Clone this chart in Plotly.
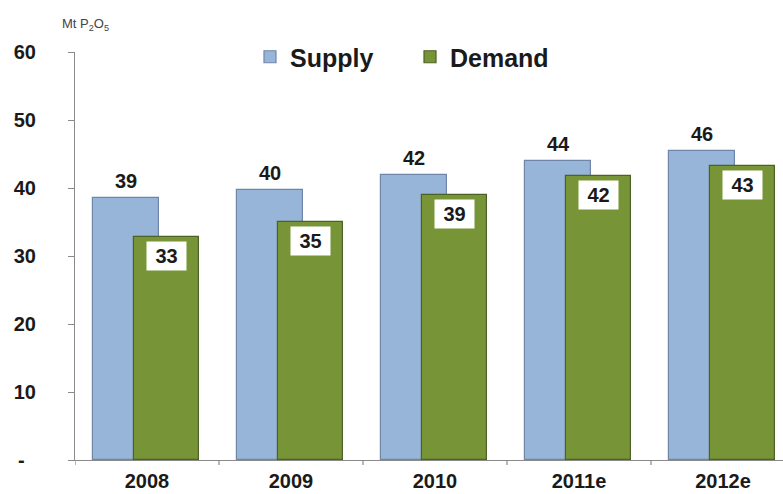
import plotly.graph_objects as go

years = ["2008", "2009", "2010", "2011e", "2012e"]
supply = [38.6, 39.7, 41.9, 43.9, 45.5]
demand = [32.8, 35.0, 38.9, 41.8, 43.3]
y_ticks = [0, 10, 20, 30, 40, 50, 60]
y_tick_labels = ["-\u00a0\u00a0", "10", "20", "30", "40", "50", "60"]

FONT = "Liberation Sans, Arial, sans-serif"
TXT = "#1a1a1a"
AXIS = "#8a8a8a"
idx = list(range(len(years)))

# plot area geometry (pixels)
W, H = 783, 494
L, T, B = 75, 52, 34
PW, PH = W - L, H - T - B


def px_x(p):
    return (p - L) / PW


def px_y(p):
    return (H - B - p) / PH


fig = go.Figure()
fig.add_trace(go.Bar(
    name="<b>Supply</b>", x=idx, y=supply,
    width=0.46, offset=-0.375,
    marker=dict(color="#97B4D9", line=dict(color="#7086A8", width=1.2)),
))
fig.add_trace(go.Bar(
    name="<b>Demand</b>", x=idx, y=demand,
    width=0.45, offset=-0.09,
    marker=dict(color="#779436", line=dict(color="#4C6126", width=1.2)),
))

annotations = []
for i, (s, d) in enumerate(zip(supply, demand)):
    annotations.append(dict(
        x=i - 0.375 + 0.23, y=s, xref="x", yref="y",
        text=f"<b>{s:.0f}</b>", showarrow=False, yshift=17,
        font=dict(family=FONT, size=20, color=TXT),
    ))
    annotations.append(dict(
        x=i - 0.09 + 0.225, y=d, xref="x", yref="y",
        text=f"<b>{d:.0f}</b>", showarrow=False, yshift=-19,
        bgcolor="white", borderpad=3, width=33, height=22,
        font=dict(family=FONT, size=20, color=TXT),
    ))
annotations.append(dict(
    x=px_x(60), y=px_y(24), xref="paper", yref="paper",
    xanchor="left", yanchor="middle",
    text="Mt P<sub>2</sub>O<sub>5</sub>", showarrow=False,
    font=dict(family=FONT, size=13, color="#444444"),
))

fig.update_layout(
    width=W, height=H,
    margin=dict(l=L, r=0, t=T, b=B, pad=0),
    paper_bgcolor="white", plot_bgcolor="white",
    barmode="overlay",
    bargap=0,
    showlegend=True,
    legend=dict(
        orientation="h", x=px_x(250), y=px_y(57),
        xanchor="left", yanchor="middle",
        font=dict(family=FONT, size=25, color=TXT),
        itemwidth=30, entrywidth=115, traceorder="normal",
        bgcolor="rgba(0,0,0,0)",
    ),
    annotations=annotations,
    font=dict(family=FONT),
)

fig.update_xaxes(
    type="linear",
    range=[-0.5, -0.5 + PW / 144],
    tickmode="array", tickvals=idx, ticktext=[f"<b>{y}</b>" for y in years],
    ticks="", showgrid=False, zeroline=False,
    showline=True, linecolor=AXIS, linewidth=1.2,
    tickfont=dict(family=FONT, size=20, color=TXT),
    ticklabelstandoff=3,
    automargin=False,
    fixedrange=True,
)
# tick marks on the category boundaries
for b in [-0.5, 0.5, 1.5, 2.5, 3.5]:
    fig.add_shape(type="line", xref="x", yref="paper", x0=b, x1=b,
                  y0=0, y1=-5 / PH, line=dict(color=AXIS, width=1.2))

fig.update_yaxes(
    range=[0, 60],
    tickmode="array", tickvals=y_ticks, ticktext=[f"<b>{t}</b>" for t in y_tick_labels],
    ticks="outside", ticklen=6, tickcolor=AXIS, tickwidth=1.2,
    showgrid=False, zeroline=False,
    showline=True, linecolor=AXIS, linewidth=1.2,
    tickfont=dict(family=FONT, size=20, color=TXT),
    ticklabelstandoff=28,
    automargin=False,
)

fig.write_html("out.html")
